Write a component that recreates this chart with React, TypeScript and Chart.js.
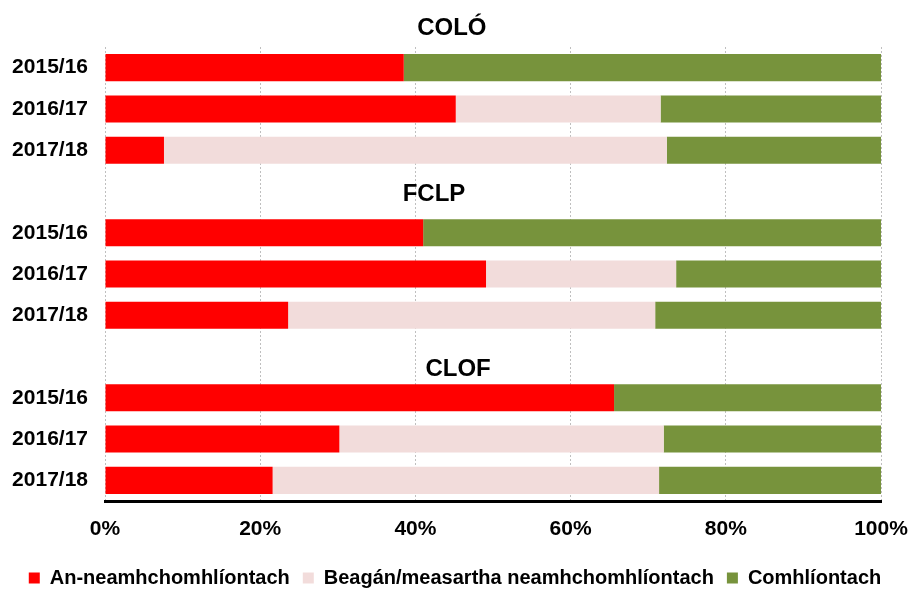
import React, { useEffect, useRef } from "react";
import { Chart, registerables } from "chart.js";

Chart.register(...registerables);

const categories = [
  "2015/16", "2016/17", "2017/18", "",
  "2015/16", "2016/17", "2017/18", "",
  "2015/16", "2016/17", "2017/18",
];

const nonCompliant = [38.5, 45.2, 7.6, null, 41.0, 49.1, 23.6, null, 65.6, 30.2, 21.6];
const partlyNonCompliant = [0, 26.4, 64.8, null, 0, 24.5, 47.3, null, 0, 41.8, 49.8];
const compliant = [61.5, 28.4, 27.6, null, 59.0, 26.4, 29.1, null, 34.4, 28.0, 28.6];

const seriesNames = [
  "An-neamhchomhlíontach",
  "Beagán/measartha neamhchomhlíontach",
  "Comhlíontach",
];

const groupNames = ["COLÓ", "FCLP", "CLOF"];
const groupRowPos = [-0.95, 3.07, 7.3];
const groupXPos = [44.7, 42.4, 45.5];

const xTicks = [0, 20, 40, 60, 80, 100];

const FONT = "'Liberation Sans', Arial, sans-serif";

const groupLabelPlugin = {
  id: "groupLabels",
  afterDraw(chart: any) {
    const { ctx, scales } = chart;
    ctx.save();
    ctx.font = `bold 24px ${FONT}`;
    ctx.fillStyle = "#000";
    ctx.textAlign = "center";
    ctx.textBaseline = "middle";
    groupNames.forEach((name, i) => {
      const x = scales.x.getPixelForValue(groupXPos[i]);
      const y = scales.y.getPixelForValue(groupRowPos[i]);
      ctx.fillText(name, x, y);
    });
    ctx.restore();
  },
};

export default function App() {
  const ref = useRef<HTMLCanvasElement | null>(null);

  useEffect(() => {
    if (!ref.current) return;
    const chart = new Chart(ref.current, {
      type: "bar",
      data: {
        labels: categories,
        datasets: [
          { label: seriesNames[0], data: nonCompliant, backgroundColor: "#FF0000" },
          { label: seriesNames[1], data: partlyNonCompliant, backgroundColor: "#F2DCDB" },
          { label: seriesNames[2], data: compliant, backgroundColor: "#77933C" },
        ],
      },
      options: {
        indexAxis: "y",
        animation: false,
        responsive: false,
        maintainAspectRatio: false,
        layout: { padding: { top: 47, right: 0, left: 0, bottom: 0 } },
        datasets: { bar: { barPercentage: 0.655, categoryPercentage: 1 } },
        scales: {
          x: {
            stacked: true,
            min: 0,
            max: 100,
            afterBuildTicks: (scale: any) => {
              scale.ticks = xTicks.map((v) => ({ value: v }));
            },
            afterFit: (scale: any) => {
              scale.height = 54;
              scale.paddingRight = 29;
            },
            ticks: {
              padding: 16,
              color: "#000",
              font: { family: FONT, size: 21, weight: "bold" },
              callback: (v: any) => `${v}%`,
            },
            grid: { color: "#bfbfbf", lineWidth: 1, drawTicks: false },
            border: { display: true, color: "#000", width: 3, dash: [2, 2] },
          },
          y: {
            stacked: true,
            afterFit: (scale: any) => {
              scale.width = 105;
            },
            ticks: {
              padding: 17,
              color: "#000",
              font: { family: FONT, size: 21, weight: "bold" },
            },
            grid: { display: false, drawTicks: false },
            border: { display: false },
          },
        },
        plugins: {
          legend: {
            position: "bottom",
            maxHeight: 34,
            labels: {
              boxWidth: 11,
              boxHeight: 11,
              padding: 13,
              color: "#000",
              font: { family: FONT, size: 20, weight: "bold" },
            },
          },
          tooltip: { enabled: false },
          title: { display: false },
        },
      } as any,
      plugins: [groupLabelPlugin],
    });
    return () => chart.destroy();
  }, []);

  return (
    <div style={{ position: "absolute", left: 0, top: 0, width: 910, height: 589, background: "#fff" }}>
      <canvas ref={ref} width={910} height={589} style={{ width: 910, height: 589 }} />
    </div>
  );
}
